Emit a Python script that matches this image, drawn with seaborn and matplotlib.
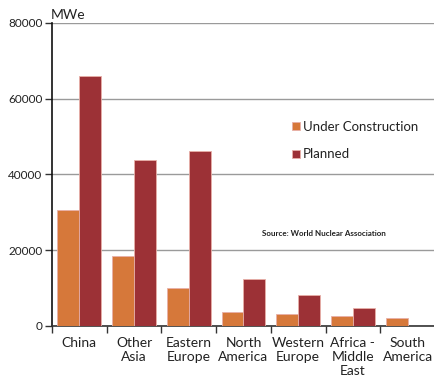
import matplotlib
matplotlib.use("Agg")
import matplotlib.pyplot as plt
import matplotlib.ticker as mticker
import seaborn as sns
import pandas as pd

regions = ["China", "Other\nAsia", "Eastern\nEurope", "North\nAmerica",
           "Western\nEurope", "Africa -\nMiddle\nEast", "South\nAmerica"]
under_construction = [30500, 18500, 10000, 3600, 3300, 2700, 2000]
planned = [66000, 43800, 46300, 12300, 8300, 4700, 0]
series_names = ["Under Construction", "Planned"]
y_ticks = [0, 20000, 40000, 60000, 80000]

df = pd.DataFrame({
    "region": regions * 2,
    "MWe": under_construction + planned,
    "status": [series_names[0]] * len(regions) + [series_names[1]] * len(regions),
})

sns.set_style("white")
plt.rcParams["font.family"] = ["Lato", "DejaVu Sans"]

fig = plt.figure(figsize=(4.35, 3.89), dpi=100)
ax = fig.add_axes([52 / 435, 1 - 326 / 389, 383 / 435, 303 / 389])

palette = {series_names[0]: "#D6783A", series_names[1]: "#9C3136"}
sns.barplot(data=df, x="region", y="MWe", hue="status", order=regions,
            hue_order=series_names, palette=palette, width=0.8, gap=0,
            saturation=1, edgecolor="#e8b0a8", linewidth=0.6, ax=ax,
            legend=True, zorder=3)

ax.set_xlim(-0.5, len(regions) - 0.5)
ax.set_ylim(0, 80000)
ax.set_yticks(y_ticks)
ax.set_yticklabels([str(v) for v in y_ticks], fontsize=8.5, color="#222222")
ax.yaxis.grid(True, color="#9a9a9a", linewidth=1.0, zorder=0)
ax.set_axisbelow(True)

# category labels centred, tick marks at the boundaries between categories
ax.xaxis.set_major_locator(mticker.FixedLocator([i - 0.5 for i in range(len(regions) + 1)]))
ax.xaxis.set_major_formatter(mticker.NullFormatter())
ax.xaxis.set_minor_locator(mticker.FixedLocator(list(range(len(regions)))))
ax.xaxis.set_minor_formatter(mticker.FixedFormatter(regions))
ax.tick_params(axis="x", which="major", direction="out", length=5, width=1, color="#333333", bottom=True)
ax.tick_params(axis="x", which="minor", length=0, labelsize=10, labelcolor="#222222", pad=8)
ax.tick_params(axis="y", direction="out", length=5, width=1, color="#333333", left=True, pad=2)

ax.set_xlabel("")
ax.set_ylabel("")
for s in ["top", "right"]:
    ax.spines[s].set_visible(False)
ax.spines["left"].set_color("#111111")
ax.spines["left"].set_linewidth(1.2)
ax.spines["bottom"].set_color("#333333")
ax.spines["bottom"].set_linewidth(1.2)

fig.text(51 / 435, 1 - 15 / 389, "MWe", fontsize=10, color="#222222", va="center", ha="left")

handles, labels = ax.get_legend_handles_labels()
ax.legend(handles, labels, loc="upper left", bbox_to_anchor=(285 / 435, 1 - 114 / 389),
          bbox_transform=fig.transFigure, frameon=False, fontsize=9.5,
          handlelength=0.6, handleheight=0.6, handletextpad=0.25, labelspacing=1.2,
          borderpad=0, labelcolor="#222222")

fig.text(262 / 435, 1 - 233 / 389, "Source: World Nuclear Association", fontsize=5.8,
         fontweight="bold", color="#222222", va="center", ha="left")

fig.savefig("out.png", dpi=100)
